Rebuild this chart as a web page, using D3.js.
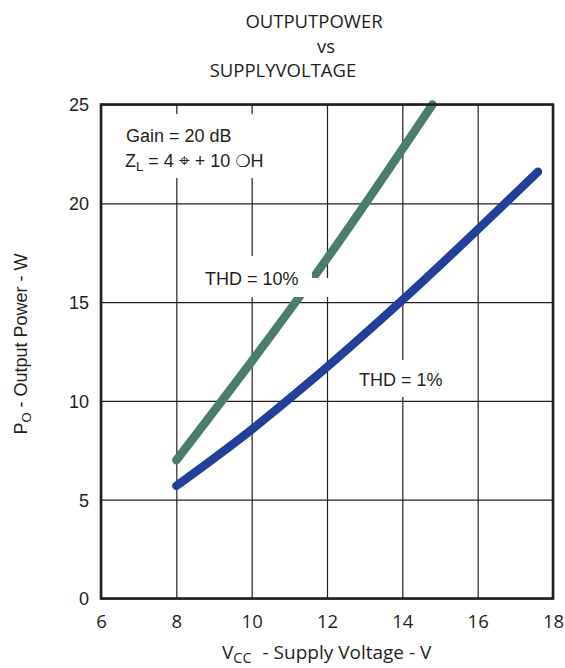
<!DOCTYPE html>
<html>
<head>
<meta charset="utf-8">
<script src="https://cdn.jsdelivr.net/npm/d3@7"></script>
<style>
  body { margin: 0; background: #fff; }
  svg { display: block; }
</style>
</head>
<body>
<svg id="chart" width="565" height="668"></svg>
<script>
// Supply voltage (V) and output power (W) for each distortion level
const thd10Vcc   = [8, 10, 12, 14.8];
const thd10Power = [7.0, 12.0, 17.2, 25.0];
const thd1Vcc    = [8, 10, 11.5, 14, 17.6];
const thd1Power  = [5.7, 8.55, 10.9, 15.1, 21.6];

const xTicks = [6, 8, 10, 12, 14, 16, 18];
const yTicks = [0, 5, 10, 15, 20, 25];

const titleLines = ["OUTPUTPOWER", "vs", "SUPPLYVOLTAGE"];

const ink = "#231f20";
const sans = "'Liberation Sans', Arial, sans-serif";
const ui = "'Open Sans', sans-serif";

const svg = d3.select("#chart");
const plotL = 101, plotR = 553, plotT = 104.5, plotB = 598.5;

const x = d3.scaleLinear().domain([6, 18]).range([plotL, plotR]);
const y = d3.scaleLinear().domain([0, 25]).range([plotB, plotT]);

// Title
const titleX = [314, 326, 283];
const titleY = [28, 53, 77];
svg.append("g").selectAll("text").data(titleLines).join("text")
  .attr("x", (d, i) => titleX[i]).attr("y", (d, i) => titleY[i])
  .attr("text-anchor", "middle")
  .attr("font-family", ui).attr("font-size", 18.5).attr("fill", ink)
  .text(d => d);

// Grid via axes
const gx = svg.append("g").attr("transform", `translate(0,${plotB})`)
  .call(d3.axisBottom(x).tickValues(xTicks).tickSize(-(plotB - plotT)).tickFormat(d3.format("d")));
gx.select(".domain").remove();
gx.selectAll("line").attr("stroke", ink).attr("stroke-width", 1.2);
gx.selectAll("text").attr("font-family", ui).attr("font-size", 18.5).attr("fill", ink)
  .attr("y", 29).attr("dy", 0);

const gy = svg.append("g").attr("transform", `translate(${plotL},0)`)
  .call(d3.axisLeft(y).tickValues(yTicks).tickSize(-(plotR - plotL)).tickFormat(d3.format("d")));
gy.select(".domain").remove();
gy.selectAll("line").attr("stroke", ink).attr("stroke-width", 1.2);
gy.selectAll("text").attr("font-family", sans).attr("font-size", 18).attr("fill", ink)
  .attr("x", -12).attr("dy", "0.35em");

// Curves
const line = d3.line().x(d => x(d[0])).y(d => y(d[1])).curve(d3.curveMonotoneX);
const series = [
  { vcc: thd10Vcc, p: thd10Power, color: "#4b7d69" },
  { vcc: thd1Vcc, p: thd1Power, color: "#22409a" }
];
svg.append("g").selectAll("path").data(series).join("path")
  .attr("d", s => line(s.vcc.map((v, i) => [v, s.p[i]])))
  .attr("fill", "none").attr("stroke", s => s.color)
  .attr("stroke-width", 8.5).attr("stroke-linecap", "round").attr("stroke-linejoin", "round");

// Knockout panels behind the annotations
const panels = [
  [112, 114, 178, 64],
  [198, 256, 114, 41],
  [300, 278, 34, 19],
  [352, 360, 100, 37]
];
svg.append("g").selectAll("rect").data(panels).join("rect")
  .attr("x", d => d[0]).attr("y", d => d[1]).attr("width", d => d[2]).attr("height", d => d[3])
  .attr("fill", "#fff");

// Plot frame
svg.append("rect").attr("x", plotL).attr("y", plotT).attr("width", plotR - plotL).attr("height", plotB - plotT)
  .attr("fill", "none").attr("stroke", ink).attr("stroke-width", 2.6);

// Annotations
const note = svg.append("g").attr("font-family", sans).attr("font-size", 18).attr("fill", ink);
note.append("text").attr("x", 126).attr("y", 142).text("Gain = 20 dB");
const zl = note.append("text").attr("x", 125).attr("y", 167);
zl.append("tspan").text("Z");
zl.append("tspan").attr("font-size", 13).attr("dy", 4).text("L");
zl.append("tspan").attr("dy", -4).text(" = 4 ");
zl.append("tspan").attr("font-family", "'DejaVu Sans'").attr("font-size", 19).text("⌖");
zl.append("tspan").text(" + 10 ");
zl.append("tspan").attr("font-family", "'DejaVu Sans'").attr("font-size", 17).text("❍");
zl.append("tspan").text("H");

note.append("text").attr("x", 205).attr("y", 285).text("THD = 10%");
note.append("text").attr("x", 359).attr("y", 386).text("THD = 1%");

// Axis titles
const xt = svg.append("text").attr("x", 222).attr("y", 659)
  .attr("font-family", ui).attr("font-size", 19).attr("fill", ink);
xt.append("tspan").text("V");
xt.append("tspan").attr("font-size", 14.5).attr("dy", 4).text("CC");
xt.append("tspan").attr("dy", -4).attr("dx", 6).text(" - Supply Voltage - V");

const yt = svg.append("text").attr("transform", "translate(27,344) rotate(-90)")
  .attr("text-anchor", "middle")
  .attr("font-family", sans).attr("font-size", 18).attr("fill", ink);
yt.append("tspan").text("P");
yt.append("tspan").attr("font-size", 13).attr("dy", 4).text("O");
yt.append("tspan").attr("dy", -4).text(" - Output Power - W");
</script>
</body>
</html>
